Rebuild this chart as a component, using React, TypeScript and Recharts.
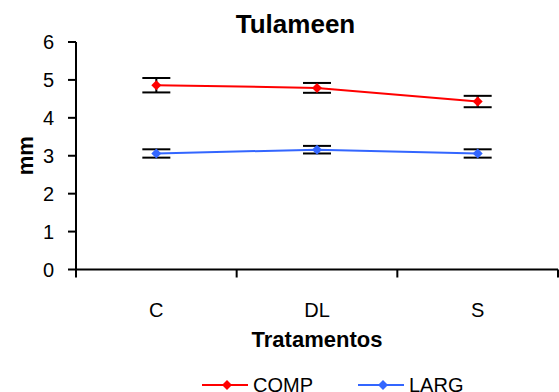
import React from 'react';
import { LineChart, Line, XAxis, YAxis, ErrorBar, Legend } from 'recharts';

const categories = ['C', 'DL', 'S'];
const compValues = [4.86, 4.79, 4.43];
const compErrors = [0.19, 0.13, 0.15];
const largValues = [3.06, 3.16, 3.06];
const largErrors = [0.11, 0.10, 0.11];
const yTicks = [0, 1, 2, 3, 4, 5, 6];

const data = categories.map((c, i) => ({
  cat: c,
  COMP: compValues[i],
  compErr: compErrors[i],
  LARG: largValues[i],
  largErr: largErrors[i],
}));

const FONT = '"Liberation Sans", Arial, sans-serif';
const W = 559;
const H = 392;
const PAD = 80.33;
const TICK = 8;
const RED = '#FF0000';
const BLUE = '#3366FF';

const Diamond = (props: any) => {
  const { cx, cy, fill } = props;
  if (cx == null || cy == null) return null;
  const r = 5;
  return <polygon points={`${cx},${cy - r} ${cx + r},${cy} ${cx},${cy + r} ${cx - r},${cy}`} fill={fill} />;
};

const CatTick = (props: any) => {
  const { x, y, payload, index } = props;
  const axisY = y - TICK;
  return (
    <g>
      {index === 0 && (
        <line x1={x - PAD} x2={x - PAD} y1={axisY} y2={axisY + TICK} stroke="#000" strokeWidth={2} />
      )}
      <line x1={x + PAD} x2={x + PAD} y1={axisY} y2={axisY + TICK} stroke="#000" strokeWidth={2} />
      <text x={x} y={axisY + 47} textAnchor="middle" fontSize={20} fontFamily={FONT} fill="#000">
        {payload.value}
      </text>
    </g>
  );
};

const LegendContent = (props: any) => {
  const { payload } = props;
  return (
    <div style={{ display: 'flex', paddingLeft: 202, fontFamily: FONT, fontSize: 20, lineHeight: '20px' }}>
      {(payload || []).map((e: any, i: number) => (
        <div key={i} style={{ display: 'flex', alignItems: 'center', marginRight: i === 0 ? 45 : 0 }}>
          <svg width={46} height={16} style={{ marginRight: 5 }}>
            <line x1={0} x2={46} y1={8} y2={8} stroke={e.color} strokeWidth={2} />
            <polygon points="25,3 30,8 25,13 20,8" fill={e.color} />
          </svg>
          <span style={{ color: '#000' }}>{e.value}</span>
        </div>
      ))}
    </div>
  );
};

export default function App() {
  return (
    <div style={{ position: 'absolute', left: 0, top: 0, width: W, height: H, background: '#fff', fontFamily: FONT }}>
      <div
        style={{
          position: 'absolute',
          left: 0,
          width: 591,
          top: 11,
          textAlign: 'center',
          fontSize: 26,
          lineHeight: '26px',
          fontWeight: 'bold',
          color: '#000',
          zIndex: 2,
        }}
      >
        Tulameen
      </div>
      <LineChart width={W} height={H} data={data} margin={{ top: 42, right: 1, bottom: 0, left: 0 }}>
        <XAxis
          dataKey="cat"
          type="category"
          padding={{ left: PAD, right: PAD }}
          height={122.5}
          axisLine={{ stroke: '#000', strokeWidth: 2 }}
          tickLine={false}
          tickSize={TICK}
          tickMargin={0}
          tick={<CatTick />}
          interval={0}
          label={{
            value: 'Tratamentos',
            position: 'insideBottom',
            offset: 45.5,
            style: { fontSize: 22, fontWeight: 'bold', fontFamily: FONT, fill: '#000' },
          }}
        />
        <YAxis
          domain={[0, 6]}
          ticks={yTicks}
          width={76}
          interval={0}
          axisLine={{ stroke: '#000', strokeWidth: 2 }}
          tickLine={{ stroke: '#000', strokeWidth: 2 }}
          tickSize={TICK}
          tickMargin={14}
          tick={{ fontSize: 20, fontFamily: FONT, fill: '#000' }}
          label={{
            value: 'mm',
            angle: -90,
            position: 'insideLeft',
            offset: 25,
            style: { fontSize: 22, fontWeight: 'bold', fontFamily: FONT, fill: '#000', textAnchor: 'middle' },
          }}
        />
        <Legend
          layout="horizontal"
          verticalAlign="middle"
          align="center"
          content={<LegendContent />}
          wrapperStyle={{ left: 0, top: 375, width: W, height: 20 }}
        />
        <Line
          dataKey="COMP"
          stroke={RED}
          strokeWidth={2}
          fill={RED}
          dot={<Diamond fill={RED} />}
          activeDot={false}
          isAnimationActive={false}
        >
          <ErrorBar dataKey="compErr" width={14} stroke="#000" strokeWidth={2} direction="y" isAnimationActive={false} />
        </Line>
        <Line
          dataKey="LARG"
          stroke={BLUE}
          strokeWidth={2}
          fill={BLUE}
          dot={<Diamond fill={BLUE} />}
          activeDot={false}
          isAnimationActive={false}
        >
          <ErrorBar dataKey="largErr" width={14} stroke="#000" strokeWidth={2} direction="y" isAnimationActive={false} />
        </Line>
      </LineChart>
    </div>
  );
}
